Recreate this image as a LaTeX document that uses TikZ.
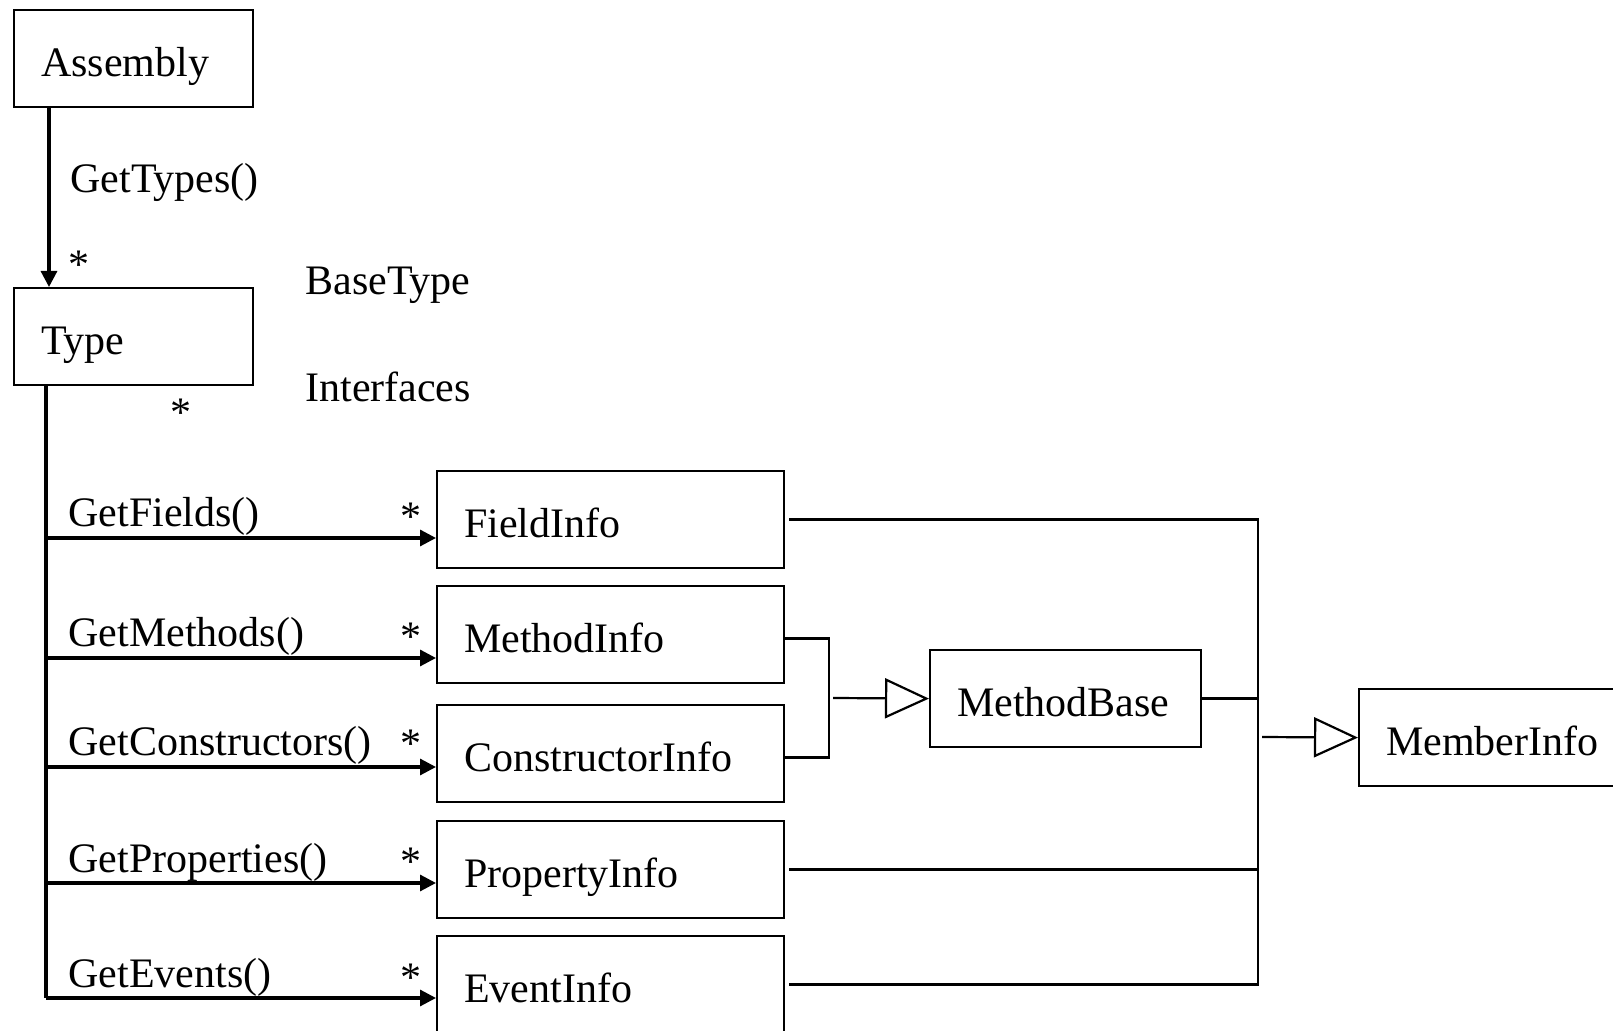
\documentclass[tikz,border=0pt]{standalone}
\usepackage{fontspec}
\setmainfont{Liberation Serif}
\usetikzlibrary{arrows.meta}

\begin{document}
\begin{tikzpicture}[x=0.5pt, y=-0.5pt, font=\fontsize{21}{25}\selectfont,
          cls/.style={draw, line width=1.1pt, anchor=north west, inner xsep=13.5pt, inner ysep=0pt, minimum height=48.5pt, text height=20pt, text depth=2pt, text width=#1, align=left},
          lbl/.style={anchor=base west, inner sep=0pt},
          mult/.style={anchor=base, inner sep=0pt},
          call/.style={line width=1.6pt, -{Triangle[length=8pt, width=8pt]}},
          gen/.style={line width=1.1pt, -{Triangle[open, length=22pt, width=20pt]}},
          link/.style={line width=1.2pt}]
        \clip (0,0) rectangle (1613,1031);
        % classes
        \node[cls=92.5pt] (asm) at (13,9) {Assembly};
        \node[cls=92.5pt] (typ) at (13,287) {Type};
        \node[cls=146.5pt] (fi) at (436,470) {FieldInfo};
        \node[cls=146.5pt] (mi) at (436,585) {MethodInfo};
        \node[cls=146.5pt] (ci) at (436,704) {ConstructorInfo};
        \node[cls=146.5pt] (pi) at (436,820) {PropertyInfo};
        \node[cls=146.5pt] (ei) at (436,935) {EventInfo};
        \node[cls=108.5pt] (mb) at (929,649) {MethodBase};
        \node[cls=120pt] (mem) at (1358,688) {MemberInfo};
        % Assembly -> Type
        \draw[call] ([xshift=18pt]asm.south west) -- ([xshift=18pt]typ.north west);
        \node[lbl] (gt) at (70,193) {GetTypes()};
        \node[mult] (gtm) at (79,279) {*};
        \node[lbl] (bt) at (305,295) {BaseType};
        \node[lbl] (itf) at (305,402) {Interfaces};
        \node[mult] (itfm) at (181,427) {*};
        % Type -> members
        \coordinate (tp) at ([xshift=16.5pt]typ.south west);
        \coordinate (t1) at (46,538);
        \coordinate (t2) at (46,658);
        \coordinate (t3) at (46,767);
        \coordinate (t4) at (46,883);
        \coordinate (t5) at (46,998);
        \draw[line width=1.6pt] (tp) -- (t5);
        \draw[call] (t1) -- (t1 -| fi.west);
        \draw[call] (t2) -- (t2 -| mi.west);
        \draw[call] (t3) -- (t3 -| ci.west);
        \draw[call] (t4) -- (t4 -| pi.west);
        \draw[call] (t5) -- (t5 -| ei.west);
        \node[lbl] (gf) at (68,527) {GetFields()};
        \node[lbl] (gm) at (68,647) {GetMethods()};
        \node[lbl] (gc) at (68,756) {GetConstructors()};
        \node[lbl] (gp) at (68,872) {GetProperties()};
        \node[lbl] (ge) at (68,987) {GetEvents()};
        \node[mult] (gfm) at (411,531) {*};
        \node[mult] (gmm) at (411,651) {*};
        \node[mult] (gcm) at (411,758) {*};
        \node[mult] (gpm) at (411,876) {*};
        \node[mult] (gem) at (411,991) {*};
        % inheritance
        \coordinate (jm) at (829,698);
        \draw[link] ([yshift=-2pt]mi.east) -| (jm) |- ([yshift=-2pt]ci.east);
        \coordinate (jb) at (833,698);
        \draw[gen] (jb) -- (mb.west);
        \coordinate (bus) at (1258,517);
        \draw[link] ([xshift=2pt]fi.east) -- (fi.east -| bus) -- (ei.east -| bus) -- ([xshift=2pt]ei.east);
        \draw[link] ([xshift=2pt]pi.east) -- (pi.east -| bus);
        \draw[link] (mb.east) -- (mb.east -| bus);
        \coordinate (jmem) at (1262,737);
        \draw[gen] (jmem) -- (mem.west);
      \end{tikzpicture}
\end{document}
